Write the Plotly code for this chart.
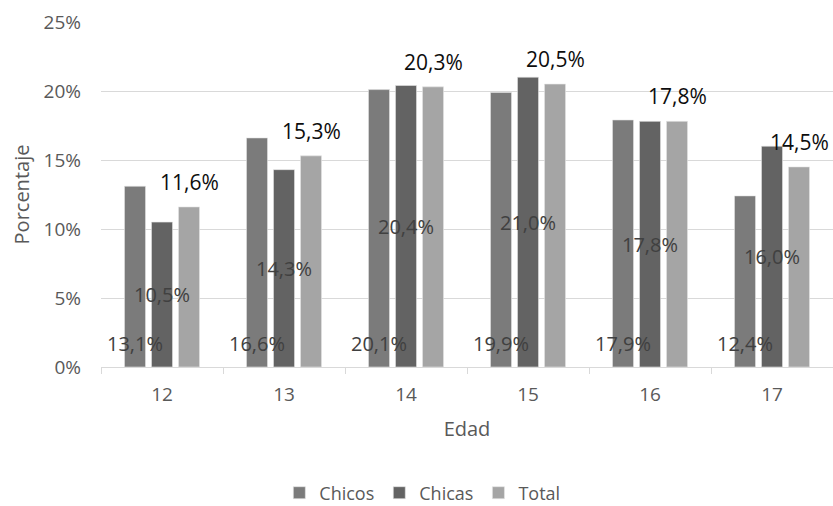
import plotly.graph_objects as go

# Porcentaje por edad y sexo
edades = ["12", "13", "14", "15", "16", "17"]
chicos = [13.1, 16.6, 20.1, 19.9, 17.9, 12.4]
chicas = [10.5, 14.3, 20.4, 21.0, 17.8, 16.0]
total = [11.6, 15.3, 20.3, 20.5, 17.8, 14.5]
y_ticks = [0, 5, 10, 15, 20, 25]

COL_CHICOS = "#7b7b7b"
COL_CHICAS = "#636363"
COL_TOTAL = "#a5a5a5"
FONT = "Open Sans"
AXIS_TXT = "#595959"
LABEL_TXT = "#404040"

BARGAP = 0.336
SLOT = (1 - BARGAP) / 3  # width of each bar slot, in category units


def fmt(v):
    return f"{v:.1f}".replace(".", ",") + "%"


fig = go.Figure()
for name, vals, col in [("Chicos", chicos, COL_CHICOS),
                        ("Chicas", chicas, COL_CHICAS),
                        ("Total", total, COL_TOTAL)]:
    fig.add_trace(go.Bar(
        name=name, x=edades, y=vals,
        marker=dict(color=col, line=dict(color="#e6e6e6", width=0.6)),
        hoverinfo="skip",
    ))

annotations = []
for i in range(len(edades)):
    # Chicos: label near the base of the bar
    annotations.append(dict(
        x=i - SLOT, y=0, xref="x", yref="y", text=fmt(chicos[i]),
        showarrow=False, yanchor="middle", yshift=24,
        font=dict(family=FONT, size=20, color=LABEL_TXT)))
    # Chicas: label centred on the bar
    annotations.append(dict(
        x=i, y=chicas[i] / 2, xref="x", yref="y", text=fmt(chicas[i]),
        showarrow=False, yanchor="middle",
        font=dict(family=FONT, size=20, color=LABEL_TXT)))
    # Total: label above the bar
    annotations.append(dict(
        x=i + SLOT, y=total[i], xref="x", yref="y", text=fmt(total[i]),
        showarrow=False, yanchor="middle", yshift=25,
        font=dict(family=FONT, size=21, color="#0d0d0d")))

fig.update_layout(
    width=833, height=506,
    margin=dict(l=101, r=0, t=22, b=139),
    paper_bgcolor="white", plot_bgcolor="white",
    barmode="group", bargap=BARGAP, bargroupgap=0.22,
    font=dict(family=FONT, size=19, color=AXIS_TXT),
    showlegend=True,
    legend=dict(orientation="h", x=0.507, xanchor="center", xref="container",
                y=1 - 493 / 506, yanchor="middle", yref="container",
                font=dict(family=FONT, size=18, color=AXIS_TXT),
                itemwidth=30, tracegroupgap=0),
    xaxis=dict(
        type="category", tickson="boundaries", ticks="outside",
        ticklen=6, tickcolor="#d9d9d9", showline=True, linecolor="#d9d9d9",
        linewidth=1, showgrid=False, ticklabelstandoff=10,
        tickfont=dict(family=FONT, size=19, color=AXIS_TXT),
        title=dict(text="Edad", standoff=16,
                   font=dict(family=FONT, size=20, color=AXIS_TXT)),
    ),
    yaxis=dict(
        range=[0, 25], tickvals=y_ticks,
        ticktext=[f"{v}%" for v in y_ticks],
        showgrid=True, gridcolor="#d9d9d9", gridwidth=1,
        zeroline=False, showline=False, ticks="",
        ticklabelstandoff=19,
        tickfont=dict(family=FONT, size=19, color=AXIS_TXT),
        title=dict(text="Porcentaje", standoff=8,
                   font=dict(family=FONT, size=20, color=AXIS_TXT)),
    ),
    annotations=annotations,
)

fig.write_html("out.html")
